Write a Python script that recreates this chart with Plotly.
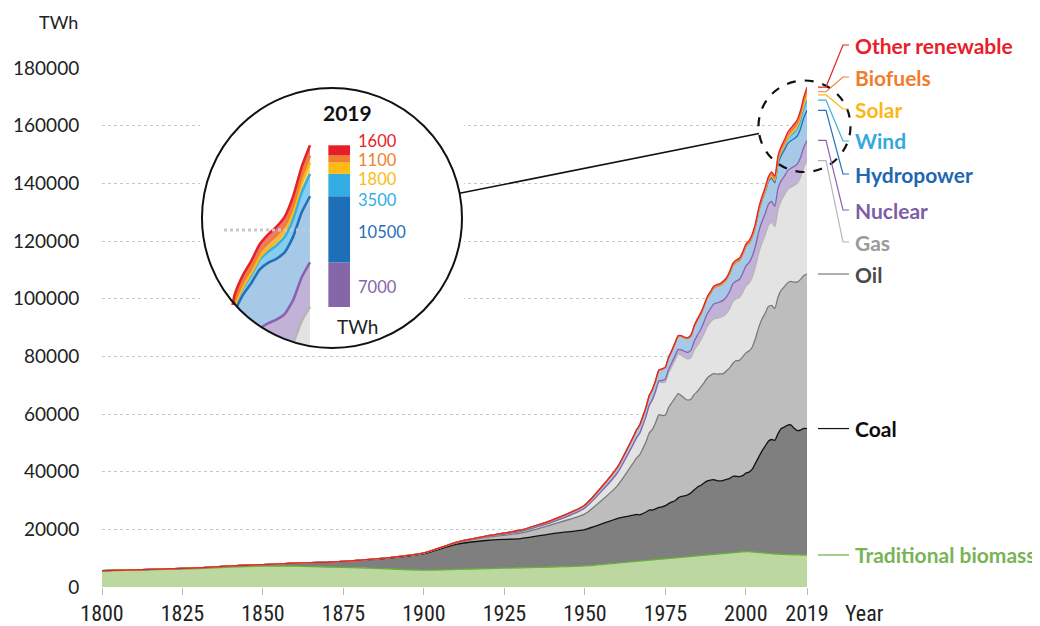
import math
import plotly.graph_objects as go

# ---- data (TWh) ----
years = [1800, 1810, 1820, 1830, 1840, 1850, 1860, 1870, 1880, 1890,
         1900, 1910, 1920, 1930, 1940, 1950, 1960,
         1965, 1966, 1967, 1968, 1969, 1970, 1971, 1972, 1973, 1974,
         1975, 1976, 1977, 1978, 1979, 1980, 1981, 1982, 1983, 1984,
         1985, 1986, 1987, 1988, 1989, 1990, 1991, 1992, 1993, 1994,
         1995, 1996, 1997, 1998, 1999, 2000, 2001, 2002, 2003, 2004,
         2005, 2006, 2007, 2008, 2009, 2010, 2011, 2012, 2013, 2014,
         2015, 2016, 2017, 2018, 2019]

trad_biomass = [5556, 5833, 6111, 6389, 6944, 7222, 7222, 6944, 6667, 6250,
                5833, 6111, 6389, 6667, 6944, 7300, 8300,
                8800, 8900, 9000, 9100, 9200, 9300, 9400, 9500, 9600, 9700,
                9800, 9900, 10000, 10100, 10200, 10300, 10400, 10500, 10600, 10700,
                10800, 10900, 11000, 11100, 11200, 11300, 11400, 11500, 11600, 11700,
                11800, 11900, 12000, 12100, 12200, 12300, 12250, 12150, 12050, 11950,
                11850, 11750, 11650, 11550, 11450, 11400, 11350, 11300, 11250, 11200,
                11150, 11150, 11100, 11100, 11100]

coal = [97, 128, 153, 264, 356, 569, 1061, 1642, 2542, 3856,
        5728, 8656, 9833, 10125, 11586, 12603, 15442,
        16100, 16300, 16000, 16400, 16800, 17400, 17300, 17600, 18000, 18100,
        18400, 19000, 19500, 19800, 20700, 21100, 21200, 21500, 22100, 23000,
        23900, 24300, 25100, 25700, 25900, 25900, 25500, 25300, 25400, 25600,
        25900, 26500, 26400, 26200, 26400, 27200, 27600, 28700, 30900, 33100,
        35300, 37100, 38900, 39600, 39400, 41800, 43600, 44200, 44900, 45000,
        43900, 43100, 43300, 43900, 43850]

oil = [0, 0, 0, 0, 0, 0, 0, 6, 33, 89,
       181, 464, 1097, 1875, 3200, 5444, 11236,
       18100, 19500, 20800, 22500, 24400, 26700, 28000, 30000, 32200, 31700,
       31400, 33300, 34400, 35700, 36200, 35000, 33800, 32800, 32500, 33100,
       33200, 34100, 34700, 35700, 36300, 36800, 36900, 37100, 37000, 37700,
       38300, 39200, 40100, 40300, 41200, 41700, 42000, 42400, 43300, 45000,
       45700, 46100, 46700, 46500, 45700, 47400, 48000, 48700, 49400, 49800,
       50700, 51500, 52300, 53000, 53600]

gas = [0, 0, 0, 0, 0, 0, 0, 0, 33, 67,
       64, 150, 233, 578, 869, 2092, 4472,
       6400, 6900, 7400, 8000, 8700, 9500, 10100, 10600, 11200, 11400,
       11500, 12100, 12500, 13000, 13700, 14000, 14200, 14300, 14500, 15500,
       16000, 16300, 17100, 17800, 18500, 19000, 19400, 19600, 19900, 19900,
       20600, 21500, 21500, 21800, 22400, 23200, 23600, 24300, 25000, 25800,
       26500, 27100, 28200, 28900, 28400, 30400, 31100, 31900, 32400, 32700,
       33500, 34300, 35500, 37600, 39300]

nuclear = [0] * 17 + [
    70, 90, 110, 140, 170, 220, 320, 430, 560, 720,
    1000, 1150, 1350, 1550, 1620, 1850, 2100, 2300, 2550, 3000,
    3550, 3800, 4100, 4450, 4550, 5150, 5350, 5400, 5600, 5750,
    5950, 6150, 6100, 6250, 6500, 6900, 7050, 7150, 7050, 7300,
    7300, 7400, 7250, 7200, 7100, 7250, 6900, 6400, 6450, 6550,
    6600, 6700, 6750, 6900, 7030]

hydro = [0] * 10 + [40, 120, 260, 480, 700, 1000, 1900] + [
    2500, 2650, 2750, 2900, 3050, 3200, 3350, 3500, 3600, 3900,
    4000, 4050, 4100, 4350, 4550, 4650, 4700, 4800, 4950, 5100,
    5200, 5250, 5250, 5400, 5400, 5550, 5700, 5700, 5950, 6000,
    6250, 6350, 6500, 6550, 6600, 6750, 6650, 6750, 6800, 7100,
    7350, 7600, 7750, 8100, 8150, 8600, 8750, 9100, 9350, 9550,
    9600, 9750, 10000, 10250, 10450]

wind = [0] * 42 + [
    10, 10, 15, 15, 20, 25, 30, 35, 50, 60,
    85, 110, 140, 170, 230, 280, 360, 460, 590, 730,
    900, 1110, 1310, 1550, 1770, 2110, 2420, 2820, 3150, 3540]

solar = [0] * 52 + [
    3, 4, 5, 6, 8, 12, 16, 22, 35, 55,
    90, 175, 265, 370, 510, 660, 860, 1150, 1450, 1790]

biofuels = [0] * 32 + [
    40, 45, 55, 70, 85, 95, 90, 100, 100, 100,
    105, 105, 100, 105, 110, 115, 120, 125, 125, 120,
    125, 135, 160, 190, 220, 260, 340, 450, 590, 650,
    740, 750, 760, 820, 890, 920, 940, 980, 1060, 1110]

other_renew = [0] * 16 + [40] + [
    60, 65, 70, 75, 85, 95, 105, 115, 125, 135,
    150, 160, 175, 185, 200, 210, 230, 250, 270, 300,
    340, 370, 400, 430, 470, 500, 510, 520, 530, 550,
    580, 600, 620, 640, 660, 680, 700, 720, 740, 770,
    800, 830, 870, 920, 960, 1050, 1100, 1160, 1220, 1290,
    1350, 1400, 1460, 1530, 1610]

# name, values, line colour, fill colour, label colour
layers = [
    ("Traditional biomass", trad_biomass, "#6aaf3d", "#bcd8a0", "#79b355"),
    ("Coal", coal, "#111111", "#7f7f7f", "#0d0d0d"),
    ("Oil", oil, "#7a7a7a", "#bdbdbd", "#4a4a4a"),
    ("Gas", gas, "#b5b5b5", "#e3e3e3", "#9b9b9b"),
    ("Nuclear", nuclear, "#8763b0", "#c3b2d8", "#7c5da8"),
    ("Hydropower", hydro, "#2370b8", "#a7c9e8", "#1f67b1"),
    ("Wind", wind, "#38aee3", "#86cdee", "#33a9e0"),
    ("Solar", solar, "#fdb913", "#fdd77a", "#fbb715"),
    ("Biofuels", biofuels, "#f0802e", "#f6ae7a", "#ef7d2d"),
    ("Other renewable", other_renew, "#e62129", "#ef7a72", "#e8202a"),
]
for _, vals, *_rest in layers:
    assert len(vals) == len(years)

# label rows on the right (pixel y); None = level with the series top
label_rows = [None, None, None, 242, 210, 174, 141, 109, 77, 45]
bar_label_rows = [287, 232, 200, 179, 160, 141]  # nuclear .. other renewable

# ---- geometry helpers: page pixels -> paper ----
# the page body has an 8px margin, so the figure itself starts at (8, 8)
PAGE_OFF = 8
W, H = 1040 - PAGE_OFF, 626 - PAGE_OFF
L, R, T, B = 102, 807, 68, 587  # plot area in page pixels
YMAX = 180000
FONT = "Lato, 'Open Sans', sans-serif"
NARROW = "'Liberation Sans Narrow', 'Roboto Condensed', Roboto"


def px(x):
    return (x - L) / (R - L)


def py(y):
    return (B - y) / (B - T)


def val_y(v):
    return B - v / YMAX * (B - T)


def note(x, y, text, size, color, family=FONT, xanchor="center"):
    return dict(x=px(x), y=py(y), xref="paper", yref="paper", text=text,
                showarrow=False, xanchor=xanchor, yanchor="middle",
                font=dict(family=family, size=size, color=color))


# inset (magnified) axes
INS_X19, INS_KX = 310, 8.4
INS_Y160, INS_KY = 230, 0.00633
BOX = (200, 87, 464, 349)
CX, CY, CR = 332, 218, 130


def ins_year(x):
    return 2019 + (x - INS_X19) / INS_KX


def ins_val(y):
    return 160000 + (INS_Y160 - y) / INS_KY


fig = go.Figure()

for name, vals, lc, fc, _ in layers:
    fig.add_trace(go.Scatter(
        x=years, y=vals, stackgroup="main", mode="lines", name=name,
        line=dict(color=lc, width=1.3, shape="spline", smoothing=0.5),
        fillcolor=fc, showlegend=False, hoverinfo="skip"))

for name, vals, lc, fc, _ in layers:
    fig.add_trace(go.Scatter(
        x=years, y=vals, stackgroup="inset", mode="lines", name=name,
        xaxis="x2", yaxis="y2",
        line=dict(color=lc, width=2.6, shape="spline", smoothing=0.5),
        fillcolor=fc, showlegend=False, hoverinfo="skip"))

# 2019 bar in the inset
bar_colors = ["#8566a9", "#1f6fb8", "#33ade2", "#fdbb13", "#f0812c", "#e61e27"]
tops = []
run = 0
for _, vals, *_r in layers:
    run += vals[-1]
    tops.append(run)
bar_year = ins_year(339.2)
bar_w = 21.7 / INS_KX
for i, (name, vals, lc, fc, tc) in enumerate(layers[4:]):
    base = tops[3 + i]
    fig.add_trace(go.Bar(
        x=[bar_year], y=[vals[-1]], base=[base], width=bar_w,
        marker=dict(color=bar_colors[i], line=dict(width=0)),
        xaxis="x2", yaxis="y2", showlegend=False, hoverinfo="skip"))

annotations = []
shapes = []

# white disc of the magnifier, under the inset traces
shapes.append(dict(type="circle", xref="x2", yref="y2", layer="below",
                   x0=ins_year(CX - CR), x1=ins_year(CX + CR),
                   y0=ins_val(CY + CR), y1=ins_val(CY - CR),
                   fillcolor="white", line=dict(width=0)))
# magnified grid line
shapes.append(dict(type="line", xref="x2", yref="y2",
                   x0=ins_year(224), x1=2019, y0=160000, y1=160000,
                   line=dict(color="#c9c9c9", width=3, dash="dot")))

# mask the part of the inset that falls outside the circle
pts = [(332, 353), (332, CY + CR)]
for i in range(25):
    th = math.radians(90 + i * 2)
    pts.append((CX + CR * math.cos(th), CY + CR * math.sin(th)))
pts += [(198, 305), (198, 353)]
mask = "M " + " L ".join(f"{px(a):.5f},{py(b):.5f}" for a, b in pts) + " Z"
shapes.append(dict(type="path", xref="paper", yref="paper", layer="above",
                   path=mask, fillcolor="white", line=dict(width=0)))

# magnifier outline, dashed lens and connector
shapes.append(dict(type="circle", xref="paper", yref="paper", layer="above",
                   x0=px(CX - CR), x1=px(CX + CR), y0=py(CY + CR), y1=py(CY - CR),
                   line=dict(color="#111111", width=2)))
shapes.append(dict(type="circle", xref="paper", yref="paper", layer="above",
                   x0=px(758.5), x1=px(850.5), y0=py(172), y1=py(80.5),
                   line=dict(color="#111111", width=2.2, dash="dash")))
shapes.append(dict(type="line", xref="paper", yref="paper", layer="above",
                   x0=px(459.6), y0=py(193.3), x1=px(759), y1=py(133.5),
                   line=dict(color="#111111", width=1.6)))

# right-hand labels with leader lines
for (name, vals, lc, fc, tc), row, top in zip(layers, label_rows, tops):
    sy = val_y(top)
    ly = sy if row is None else row
    lead = [(818, sy), (826, sy), (843, ly), (849, ly)]
    path = "M " + " L ".join(f"{px(a):.5f},{py(b):.5f}" for a, b in lead)
    shapes.append(dict(type="path", xref="paper", yref="paper", layer="above",
                       path=path, line=dict(color=lc, width=1.2)))
    annotations.append(note(853, ly, f"<b>{name}</b>", 21, tc, xanchor="left"))

# inset texts
annotations.append(note(347, 112, "<b>2019</b>", 21, "#111111"))
for i, (name, vals, lc, fc, tc) in enumerate(layers[4:]):
    label = str(int(vals[-1] / 100 + 0.5) * 100)
    annotations.append(note(356, bar_label_rows[i], label, 16.5, bar_colors[i],
                            xanchor="left"))
annotations.append(note(357, 326, "TWh", 19, "#222222"))

# axis titles
annotations.append(note(80, 22, "TWh", 18, "#222222", xanchor="right"))
annotations.append(note(843, 613, "Year", 22, "#222222", family=NARROW,
                        xanchor="left"))

fig.update_layout(
    width=W, height=H,
    margin=dict(l=L - PAGE_OFF, r=W - (R - PAGE_OFF), t=T - PAGE_OFF,
                b=H - (B - PAGE_OFF)),
    paper_bgcolor="white", plot_bgcolor="white",
    barmode="overlay",
    showlegend=False,
    font=dict(family=FONT, color="#222222"),
    xaxis=dict(range=[1800, 2019], showgrid=False, zeroline=False,
               automargin=False,
               tickvals=[1800, 1825, 1850, 1875, 1900, 1925, 1950, 1975, 2000, 2019],
               ticks="outside", ticklen=7, tickcolor="#bbbbbb",
               ticklabelstandoff=0,
               tickfont=dict(family=NARROW, size=22, color="#222222")),
    yaxis=dict(range=[0, YMAX], tickvals=list(range(0, 180001, 20000)),
               tickformat="d", showgrid=True, gridcolor="#c9c9c9",
               griddash="dot", gridwidth=1, zeroline=False,
               automargin=False,
               ticks="outside", ticklen=18, tickcolor="rgba(0,0,0,0)",
               tickfont=dict(family=FONT, size=19, color="#222222")),
    xaxis2=dict(domain=[px(BOX[0]), px(BOX[2])],
                range=[ins_year(BOX[0]), ins_year(BOX[2])],
                visible=False, anchor="y2", showgrid=False, automargin=False),
    yaxis2=dict(domain=[py(BOX[3]), py(BOX[1])],
                range=[ins_val(BOX[3]), ins_val(BOX[1])],
                visible=False, anchor="x2", showgrid=False, automargin=False),
    shapes=shapes,
    annotations=annotations,
)

fig.write_html("out.html")
